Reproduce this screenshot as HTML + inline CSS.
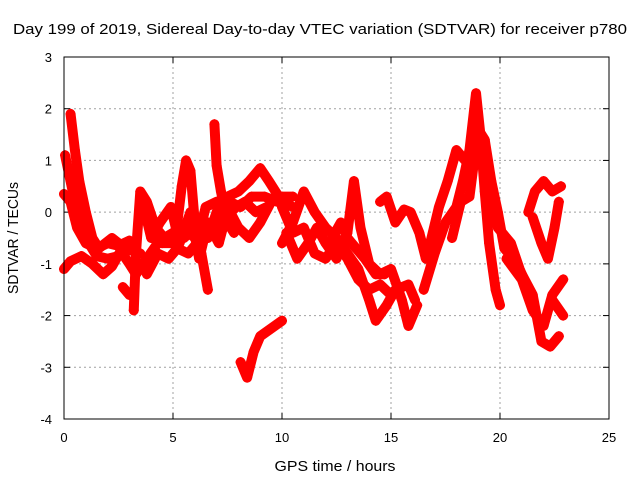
<!DOCTYPE html>
<html><head><meta charset="utf-8"><style>
body{margin:0;background:#fff;}
svg{display:block;font-family:"Liberation Sans",sans-serif;}
</style></head><body>
<svg id="chart" width="640" height="480">
<text x="320" y="34" font-size="15" textLength="614" lengthAdjust="spacingAndGlyphs" text-anchor="middle">Day 199 of 2019, Sidereal Day-to-day VTEC variation (SDTVAR) for receiver p780</text>
<text x="335" y="471" font-size="15" textLength="121" lengthAdjust="spacingAndGlyphs" text-anchor="middle">GPS time / hours</text>
<text transform="translate(18,238) rotate(-90)" font-size="15" textLength="112" lengthAdjust="spacingAndGlyphs" text-anchor="middle">SDTVAR / TECUs</text>
<g id="grid"></g><g id="marks"></g>
<rect x="64" y="57" width="545" height="362" fill="none" stroke="#000" stroke-width="1"/>
</svg>
<script>
const xTicks=[0,5,10,15,20,25];
const yTicks=[3,2,1,0,-1,-2,-3,-4];
const trackA=[[0.05,1.1],[0.3,0.6],[0.6,0.0],[1.0,-0.5],[1.5,-0.85],[2,-0.9],[2.5,-0.85],[3,-0.7]];
const trackB=[[0.3,1.9],[0.5,1.2],[0.7,0.6],[1,0],[1.3,-0.5],[1.6,-0.7],[2.2,-0.5],[2.8,-0.7],[3.5,-0.8]];
const trackC=[[0,0.35],[0.3,0.2],[0.6,-0.3],[1,-0.6],[1.5,-0.7],[2,-0.6],[2.5,-0.65],[3,-0.55]];
const trackD=[[0,-1.1],[0.3,-0.95],[0.8,-0.85],[1.3,-1.0],[1.8,-1.2],[2.2,-1.05],[2.6,-0.75],[3,-1.0],[3.3,-1.2],[3.8,-0.9],[4.3,-0.6]];
const trackE=[[3.2,-1.9],[3.3,-0.8],[3.5,0.4],[3.8,0.2],[4.2,-0.3],[4.6,-0.5],[5,-0.4],[5.5,-0.5],[6,-0.3]];
const trackF=[[2.7,-1.45],[3.0,-1.6]];
const trackG=[[5.2,-0.2],[5.4,0.5],[5.6,1.0],[5.8,0.8],[6.0,-0.2],[6.3,-0.8],[6.6,-1.5]];
const trackH=[[6.9,1.7],[7.0,0.9],[7.2,0.4],[7.5,-0.2],[7.8,-0.4]];
const trackI=[[6.6,-0.5],[7,0],[7.5,0.3],[8,0.4],[8.5,0.6],[9,0.85],[9.4,0.6],[10,0.2],[10.5,0.1]];
const trackK=[[8.1,-2.9],[8.4,-3.2],[8.7,-2.7],[9,-2.4],[9.5,-2.25],[10,-2.1]];
const trackL=[[4,-0.2],[4.5,-0.6],[5,-0.6],[5.5,-0.3],[6,-0.5],[6.5,-0.2],[7,-0.3],[7.5,0.1],[8,-0.3],[8.5,-0.5],[9,-0.2],[9.5,0.2],[10,0.3],[10.5,0.3]];
const trackL2=[[3.6,0.2],[4,-0.5],[4.4,-0.2],[4.9,0.1],[5.3,-0.6],[5.8,0.0],[6.2,-0.9],[6.6,-0.2],[7.1,-0.6],[7.6,0.2],[8.1,0.1],[8.6,0.3],[9.2,0.3],[9.8,0.2]];
const trackL3=[[3.8,-1.2],[4.3,-0.8],[4.8,-0.9],[5.2,-0.7],[5.7,-0.8],[6.1,-0.6],[6.5,0.1],[7.0,0.2],[7.4,-0.1],[7.9,0.1],[8.3,0.2],[8.8,0.0],[9.3,0.1]];
const trackM=[[10,-0.6],[10.5,-0.2],[11,0.4],[11.5,0.0],[12,-0.3],[12.5,-0.5],[13,-0.8],[13.5,-1.1],[14,-1.7],[14.3,-2.1],[14.8,-1.8],[15.2,-1.5],[15.8,-1.4],[16.1,-1.7]];
const trackN=[[10.2,-0.4],[10.7,-0.9],[11.2,-0.6],[11.6,-0.3],[12,-0.6],[12.5,-0.9],[13,-0.4],[13.3,0.6],[13.6,-0.3],[14,-1.0],[14.5,-1.2],[15,-1.1],[15.5,-1.7],[15.8,-2.2],[16.2,-1.8]];
const trackO=[[10,0.1],[10.5,-0.4],[11,-0.3],[11.5,-0.8],[12,-0.9],[12.5,-0.6],[13,-0.9],[13.5,-1.3],[14,-1.5],[14.5,-1.4],[15,-1.6]];
const trackP=[[12.3,-0.5],[12.7,-0.2],[13,-0.5],[13.4,-0.7],[13.8,-0.9],[14.3,-1.2],[14.7,-1.2]];
const trackQ=[[14.5,0.2],[14.8,0.3],[15.2,-0.2],[15.6,0.05],[15.9,0.0],[16.3,-0.4],[16.6,-0.9],[16.8,-0.6],[17.2,0.1],[17.6,0.6],[18,1.2],[18.4,1.0],[18.8,0.9]];
const trackR=[[16.5,-1.5],[17,-0.8],[17.5,-0.2],[18,0.1],[18.3,0.6],[18.6,1.2],[18.9,2.3],[19.1,1.5],[19.3,0.4],[19.5,-0.6],[19.8,-1.5],[20,-1.8]];
const trackS=[[17.8,-0.5],[18.2,0.2],[18.6,0.3],[19.0,1.6],[19.3,1.4],[19.6,0.6],[19.9,0.0],[20.2,-0.7],[20.6,-0.9],[21,-1.2],[21.5,-1.6],[21.9,-2.5],[22.3,-2.6],[22.7,-2.4]];
const trackT=[[21.3,0.0],[21.6,0.4],[22,0.6],[22.4,0.4],[22.8,0.5]];
const trackU=[[21.5,-0.1],[21.9,-0.6],[22.2,-0.9],[22.5,-0.3],[22.7,0.2]];
const trackV=[[20.3,-0.9],[21,-1.3],[21.5,-1.9],[22,-2.2],[22.4,-1.6],[22.9,-1.3]];
const trackW=[[22.4,-1.7],[22.9,-2.0]];
const trackX=[[19.4,0.4],[19.9,-0.3],[20.5,-0.6],[20.9,-1.1],[21.3,-1.5]];
const tracks=[trackA,trackB,trackC,trackD,trackE,trackF,trackG,trackH,trackI,trackK,trackL,trackL2,trackL3,trackM,trackN,trackO,trackP,trackQ,trackR,trackS,trackT,trackU,trackV,trackW,trackX];
const NS="http://www.w3.org/2000/svg";
const X0=64,X1=609,Y0=57,Y1=419;
function sx(h){return X0+(h-0)/25*(X1-X0);}
function sy(v){return Y0+(3-v)/7*(Y1-Y0);}
const grid=document.getElementById('grid'),marks=document.getElementById('marks');
function mk(tag,attrs,parent){const e=document.createElementNS(NS,tag);for(const k in attrs)e.setAttribute(k,attrs[k]);parent.appendChild(e);return e;}
xTicks.forEach(t=>{const x=sx(t);
 if(t>0&&t<25){const l=mk('line',{x1:x,x2:x,y1:Y0,y2:Y1,stroke:'#a0a0a0','stroke-dasharray':'2,3'},grid);
 
 }
 mk('line',{x1:x,x2:x,y1:Y1,y2:Y1-6,stroke:'#000'},grid);
 mk('line',{x1:x,x2:x,y1:Y0,y2:Y0+6,stroke:'#000'},grid);
 const tx=mk('text',{x:x,y:442,'font-size':13,'text-anchor':'middle'},grid);tx.textContent=t;
 
 
});
yTicks.forEach(t=>{const y=sy(t);
 if(t<3&&t>-4){const l=mk('line',{x1:X0,x2:X1,y1:y,y2:y,stroke:'#a0a0a0','stroke-dasharray':'2,3'},grid);
 
 }
 mk('line',{x1:X0,x2:X0+6,y1:y,y2:y,stroke:'#000'},grid);
 mk('line',{x1:X1,x2:X1-6,y1:y,y2:y,stroke:'#000'},grid);
 const tx=mk('text',{x:52,y:y+5,'font-size':13,'text-anchor':'end'},grid);tx.textContent=t;
 
 
});
tracks.forEach((tr,i)=>{
 const g=mk('g',{},marks);
 
 
 const pts=tr.map(p=>sx(p[0])+','+sy(p[1])).join(' ');
 mk('polyline',{points:pts,fill:'none',stroke:'#ff0000','stroke-width':10,'stroke-linejoin':'round','stroke-linecap':'round'},g);
 tr.forEach(p=>{const x=sx(p[0]),y=sy(p[1]);
  const m=mk('path',{d:`M${x-5},${y}H${x+5}M${x},${y-5}V${y+5}`,stroke:'#ff0000','stroke-width':1.5},g);
  
  
 });
});
</script>
</body></html>
